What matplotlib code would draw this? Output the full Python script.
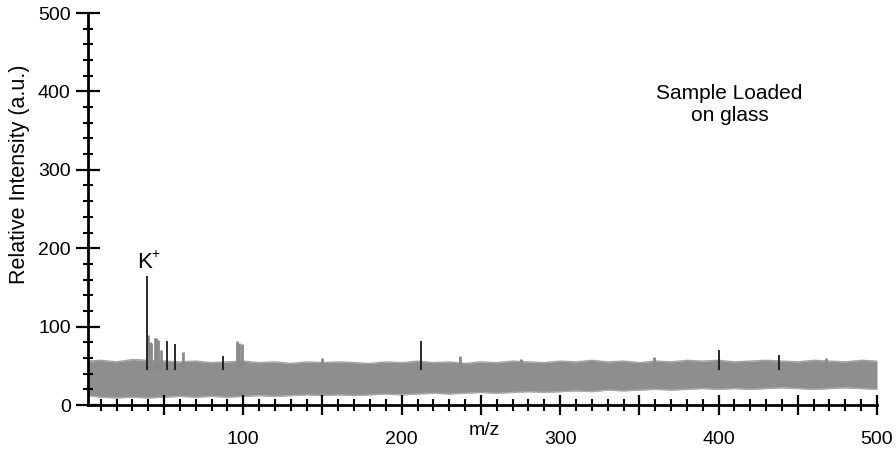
import matplotlib
matplotlib.use("Agg")
import matplotlib.pyplot as plt
from matplotlib.ticker import MultipleLocator

plt.rcParams['font.family'] = ['Liberation Sans', 'DejaVu Sans']

# noise envelope of the spectrum (m/z, lower and upper intensity)
env_mz = [2, 10, 20, 30, 40, 50, 60, 70, 80, 90, 100, 110, 120, 130, 140, 150,
          160, 170, 180, 190, 200, 210, 220, 230, 240, 250, 260, 270, 280, 290,
          300, 310, 320, 330, 340, 350, 360, 370, 380, 390, 400, 410, 420, 430,
          440, 450, 460, 470, 480, 490, 500]
env_low = [12, 10, 9, 10, 9, 10, 11, 10, 11, 10, 11, 12, 11, 12, 13, 12,
           13, 12, 13, 14, 13, 14, 15, 14, 15, 16, 15, 16, 17, 16,
           17, 18, 17, 19, 18, 19, 20, 19, 20, 21, 20, 21, 20, 21,
           22, 21, 20, 21, 22, 21, 20]
env_high = [56, 57, 55, 58, 57, 56, 55, 56, 54, 55, 56, 54, 55, 53, 55, 54,
            55, 54, 53, 55, 54, 56, 54, 55, 53, 55, 54, 56, 55, 54,
            56, 55, 57, 55, 56, 54, 56, 55, 57, 56, 57, 55, 56, 57,
            56, 55, 57, 56, 55, 57, 56]

# peaks rising out of the noise
dark_mz = [39, 52, 57, 87, 212, 400, 438]
dark_int = [164, 81, 78, 62, 82, 70, 64]
gray_mz = [40, 41, 42, 44, 45, 46, 48, 62, 96, 97, 99, 150, 237, 275, 359, 468]
gray_int = [89, 80, 79, 86, 85, 83, 70, 68, 81, 79, 78, 60, 63, 59, 61, 60]

fig = plt.figure(figsize=(8.96, 4.53), dpi=100)
ax = fig.add_axes([88 / 896, 48 / 453, 789 / 896, 392 / 453])

ax.fill_between(env_mz, env_low, env_high, color='#8e8e8e', lw=0, zorder=1)
ax.plot(env_mz, env_high, color='#a4a4a4', lw=1.0, zorder=1)
ax.plot(env_mz, env_low, color='#ababab', lw=1.0, zorder=1)

ax.vlines(gray_mz, 45, gray_int, color='#8a8a8a', lw=2.0, zorder=2)
ax.vlines(dark_mz, 45, dark_int, color='#1a1a1a', lw=1.3, zorder=3)

ax.set_xlim(2, 500)
ax.set_ylim(0, 500)

for side in ['top', 'right']:
    ax.spines[side].set_visible(False)
for side in ['left', 'bottom']:
    ax.spines[side].set_linewidth(2)
    ax.spines[side].set_zorder(5)

ax.xaxis.set_major_locator(MultipleLocator(50))
ax.xaxis.set_minor_locator(MultipleLocator(10))
ax.yaxis.set_major_locator(MultipleLocator(100))
ax.yaxis.set_minor_locator(MultipleLocator(20))
ax.xaxis.set_major_formatter(lambda v, p: '%d' % v if v % 100 == 0 and v > 0 else '')

ax.tick_params(axis='x', which='major', direction='inout', length=14, width=1.6,
               labelsize=14, pad=12)
ax.tick_params(axis='x', which='minor', direction='inout', length=8, width=1.5)
ax.tick_params(axis='y', which='major', direction='inout', length=17, width=1.6,
               labelsize=14, pad=4)
ax.tick_params(axis='y', which='minor', direction='inout', length=7, width=1.5)

ax.text(252, -32, 'm/z', ha='center', va='center', fontsize=14)
fig.text(20 / 896, 1 - 174 / 453, 'Relative Intensity (a.u.)', rotation=90,
         ha='center', va='center', fontsize=15.5)

# potassium label with a small raised plus
ax.text(38, 175, 'K', ha='center', va='baseline', fontsize=16)
ax.text(44.5, 188, '+', ha='center', va='baseline', fontsize=10)
ax.text(407, 409, 'Sample Loaded\non glass', ha='center', va='top',
        fontsize=15, multialignment='center', linespacing=1.2)

fig.savefig('out.png', dpi=100)
